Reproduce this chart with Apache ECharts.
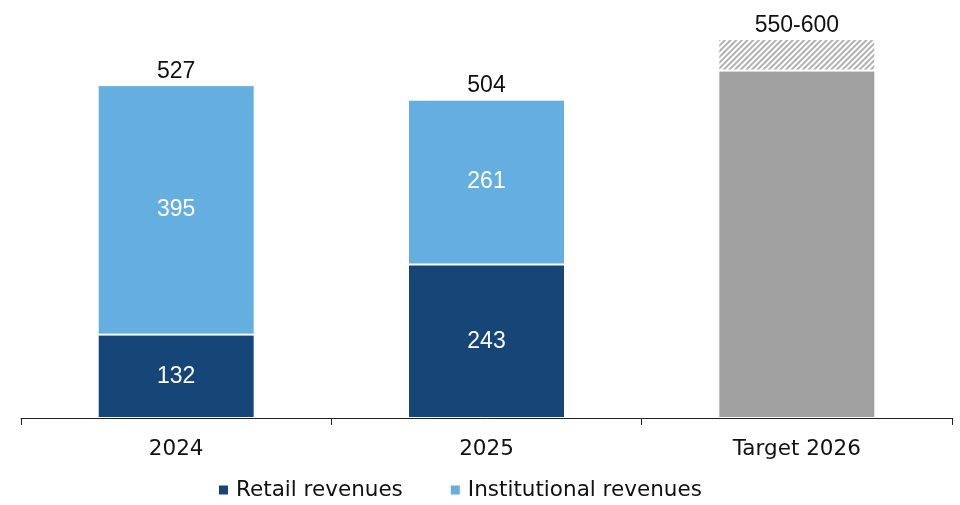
<!DOCTYPE html>
<html>
<head>
<meta charset="utf-8">
<script src="https://cdn.jsdelivr.net/npm/echarts@6/dist/echarts.min.js"></script>
<style>
  html, body { margin: 0; padding: 0; background: #fff; }
  #chart { width: 960px; height: 505px; }
</style>
</head>
<body>
<div id="chart"></div>
<script>
// categories and values
const categories = ['2024', '2025', 'Target 2026'];
const retail = [132, 243, '-'];
const institutional = [395, 261, '-'];
const targetLow = ['-', '-', 550];
const targetRange = ['-', '-', 50];
const totalLabels = ['527', '504', '550-600'];

const chartObj = echarts.init(document.getElementById('chart'));

const axisFont = '"DejaVu Sans", sans-serif';
const valueFont = '"Liberation Sans", Arial, sans-serif';

let options = {
    animation: false,
    grid: { left: 21, right: 8, top: 39, bottom: 87 },
    legend: {
        data: ['Retail revenues', 'Institutional revenues'],
        bottom: -1,
        left: 212,
        itemWidth: 11,
        itemHeight: 11,
        itemGap: 46,
        icon: 'rect',
        textStyle: { fontFamily: axisFont, fontSize: 21.5, color: '#111', padding: [0, 0, 0, 2] }
    },
    xAxis: {
        type: 'category',
        data: categories,
        axisLine: { lineStyle: { color: '#222', width: 1 } },
        axisTick: { show: true, length: 7, lineStyle: { color: '#222' } },
        axisLabel: { fontFamily: axisFont, fontSize: 21.5, color: '#111', margin: 20 }
    },
    yAxis: {
        type: 'value',
        min: 0,
        max: 600,
        show: false,
        splitLine: { show: false }
    },
    series: [
        {
            name: 'Retail revenues',
            type: 'bar',
            stack: 'total',
            barWidth: 157,
            data: retail,
            itemStyle: { color: '#154677', borderColor: '#fff', borderWidth: 1 },
            label: { show: true, position: 'inside', color: '#fff', fontFamily: valueFont, fontSize: 23 }
        },
        {
            name: 'Institutional revenues',
            type: 'bar',
            stack: 'total',
            data: institutional,
            itemStyle: { color: '#65aee0', borderColor: '#fff', borderWidth: 1 },
            label: { show: true, position: 'inside', color: '#fff', fontFamily: valueFont, fontSize: 23 }
        },
        {
            name: 'Target',
            type: 'bar',
            stack: 'total',
            data: targetLow,
            itemStyle: { color: '#a0a0a0', borderColor: '#fff', borderWidth: 1 }
        },
        {
            name: 'Target range',
            type: 'bar',
            stack: 'total',
            data: targetRange,
            itemStyle: {
                color: '#ffffff',
                borderColor: '#fff',
                borderWidth: 1,
                decal: {
                    symbol: 'rect',
                    color: '#b2b2b2',
                    dashArrayX: [1, 0],
                    dashArrayY: [2, 2],
                    rotation: -Math.PI / 4
                }
            }
        },
        {
            name: 'Total',
            type: 'bar',
            stack: 'total',
            data: [0, 0, 0],
            itemStyle: { color: 'transparent' },
            label: {
                show: true,
                position: 'top',
                distance: 2,
                color: '#111',
                fontFamily: valueFont,
                fontSize: 23,
                formatter: function (p) { return totalLabels[p.dataIndex]; }
            }
        }
    ]
};
chartObj.setOption(options);
</script>
</body>
</html>
